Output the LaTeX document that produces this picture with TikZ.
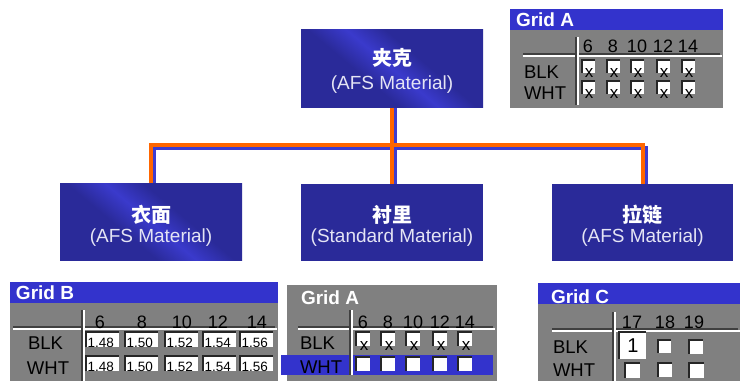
\documentclass[tikz,border=0pt]{standalone}
\usepackage{fontspec}
\setmainfont{Liberation Sans}
\newfontfamily\cjk{Noto Sans CJK SC}
\usetikzlibrary{calc}
\definecolor{navy}{HTML}{2A2A99}
\definecolor{navyL}{HTML}{3A3ACC}
\definecolor{barblue}{HTML}{3333CC}
\definecolor{gbody}{HTML}{808080}
\definecolor{orng}{HTML}{FF6600}
\definecolor{shblue}{HTML}{3D3DD0}
\definecolor{subtxt}{HTML}{E4E4F4}
\pgfdeclarehorizontalshading{streak}{100bp}{color(0bp)=(navy); color(40bp)=(navy); color(50bp)=(navyL); color(60bp)=(navy); color(100bp)=(navy)}
\pgfdeclarelayer{bg}
\pgfsetlayers{bg,main}
\newcommand\ckb[3]{%
  \fill[white] (#1,#2) rectangle ++(#3,#3);
  \draw[line width=1.6pt, black!85] (#1,#2+#3) -- (#1,#2) -- (#1+#3,#2);}
\newcommand\hgroove[3]{%
  \draw[line width=1.6pt, black!75] (#1,#3) -- (#2,#3);
  \draw[line width=1.2pt, white] (#1,#3+2) -- (#2+2,#3+2);}
\newcommand\vgroove[3]{%
  \draw[line width=1.6pt, black!75] (#1,#2) -- (#1,#3);
  \draw[line width=1.2pt, white] (#1+2,#2) -- (#1+2,#3);}
\tikzset{
  orgbox/.style={draw=none, fill=navy, minimum width=182pt, minimum height=77pt, inner sep=0pt},
  zh/.style={text=white, font=\cjk\bfseries\fontsize{20}{20}\selectfont},
  en/.style={text=subtxt, font=\fontsize{19}{19}\selectfont},
  orline/.style={draw=orng, line width=4pt},
  blline/.style={draw=shblue, line width=4pt},
  gtitle/.style={text=white, font=\bfseries\fontsize{19}{19}\selectfont, anchor=west},
  hdr/.style={font=\fontsize{18}{18}\selectfont},
  lbl/.style={font=\fontsize{18.5}{18}\selectfont, anchor=west},
  xmark/.style={font=\fontsize{17}{17}\selectfont, anchor=base},
  val/.style={font=\fontsize{13.5}{13}\selectfont, anchor=base west},
}
\begin{document}
\begin{tikzpicture}[x=1pt, y=-1pt, every node/.append style={inner sep=0pt, outer sep=0pt}]
\useasboundingbox (0,0) rectangle (740,381);

% ---------- org boxes ----------
\node[orgbox, minimum height=78pt, shading=streak, shading angle=50] (top) at (392,68) {};
\node[orgbox, shading=streak, shading angle=50] (left) at (151,222) {};
\node[orgbox] (mid) at (392,222) {};
\node[orgbox, minimum width=181pt] (right) at (642.5,222) {};

\node[zh] (topz) at (392,58) {夹克};
\node[en] (tope) at (392,85) {(AFS Material)};
\node[zh] (leftz) at (151,215) {衣面};
\node[en] (lefte) at (151,238) {(AFS Material)};
\node[zh] (midz) at (392,215) {衬里};
\node[en] (mide) at (392,238) {(Standard Material)};
\node[zh] (rightz) at (642.5,215) {拉链};
\node[en] (righte) at (642.5,238) {(AFS Material)};

% ---------- connectors ----------
\coordinate (bus) at (392,145);
\coordinate (busS) at (395,148);
\begin{pgfonlayer}{bg}
  \coordinate (tS) at ([xshift=3pt]top.south);
  \coordinate (mS) at ([xshift=3pt]mid.north);
  \coordinate (lS) at ([xshift=3pt]left.north);
  \coordinate (rS) at ([xshift=3pt]right.north);
  \draw[blline] (tS) -- (mS);
  \draw[blline] (lS) -- (lS |- busS) -- (rS |- busS) -- (rS);
  \draw[orline] (top.south) -- (mid.north);
  \draw[orline] (left.north) -- (left.north |- bus) -- (right.north |- bus) -- (right.north);
\end{pgfonlayer}

% ---------- Grid A (top right) ----------
\fill[barblue] (510,9) rectangle (723,30);
\fill[gbody] (510,30) rectangle (723,108);
\node[gtitle] (tAt) at (516,20) {Grid A};
\hgroove{523}{720}{54}
\vgroove{576}{37}{105}
\node[lbl] (tAb) at (524,72) {BLK};
\node[lbl] (tAw) at (524,93) {WHT};
\foreach \n/\c [count=\i] in {6/588,8/613,10/637,12/663,14/688} {
  \node[hdr] (tAh\i) at (\c,46) {\n};
  \ckb{\c-6}{60}{13}
  \node[xmark] (tAx\i) at (\c+1,77.5) {x};
  \ckb{\c-6}{81}{13}
  \node[xmark] (tAy\i) at (\c+1,98) {x};
}

% ---------- Grid B ----------
\fill[barblue] (10,282) rectangle (278,303);
\fill[gbody] (10,303) rectangle (278,381);
\node[gtitle] (gBt) at (16,293) {Grid B};
\hgroove{13}{275}{327}
\vgroove{82}{310}{381}
\node[lbl] (gBb) at (28,343) {BLK};
\node[lbl] (gBw) at (27,368) {WHT};
\foreach \n/\c/\l/\v [count=\i] in {6/100/86/1.48, 8/142/125/1.50, 10/182/165/1.52, 12/218/203/1.54, 14/257/240/1.56} {
  \node[hdr] (gBh\i) at (\c,322) {\n};
  \fill[white] (\l,332) rectangle ++(33,15);
  \draw[line width=1.6pt, black!85] (\l,347) -- (\l,332) -- (\l+33,332);
  \node[val] (gBv\i) at (\l+1.5,347) {\v};
  \fill[white] (\l,356) rectangle ++(33,15);
  \draw[line width=1.6pt, black!85] (\l,371) -- (\l,356) -- (\l+33,356);
  \node[val] (gBu\i) at (\l+1.5,371) {\v};
}

% ---------- Grid A (bottom) ----------
\fill[gbody] (287,285) rectangle (497,381);
\fill[barblue] (281,355) rectangle (493,375);
\node[gtitle] (bAt) at (301,298) {Grid A};
\hgroove{298}{493}{327}
\vgroove{350}{310}{375}
\node[lbl] (bAb) at (300,343) {BLK};
\node[lbl] (bAw) at (300,367) {WHT};
\foreach \n/\c [count=\i] in {6/363,8/388,10/413,12/440,14/465} {
  \node[hdr] (bAh\i) at (\c,322) {\n};
  \ckb{\c-7}{332}{14}
  \node[xmark] (bAx\i) at (\c+1,350) {x};
  \ckb{\c-7}{357}{14}
}

% ---------- Grid C ----------
\fill[barblue] (538,283) rectangle (740,304);
\fill[gbody] (538,304) rectangle (740,381);
\node[gtitle] (gCt) at (551,297) {Grid C};
\hgroove{552}{738}{329}
\vgroove{613}{312}{381}
\node[lbl] (gCb) at (553,347) {BLK};
\node[lbl] (gCw) at (553,370) {WHT};
\node[hdr] (gCh1) at (632,322) {17};
\node[hdr] (gCh2) at (665,322) {18};
\node[hdr] (gCh3) at (694,322) {19};
\ckb{619}{332}{27}
\node[font=\fontsize{20}{20}\selectfont] (gCone) at (633,346) {1};
\ckb{658}{340}{13}
\ckb{689}{340}{14}
\ckb{625}{363}{15}
\ckb{658}{363}{14}
\ckb{689}{363}{15}
\end{tikzpicture}
\end{document}
